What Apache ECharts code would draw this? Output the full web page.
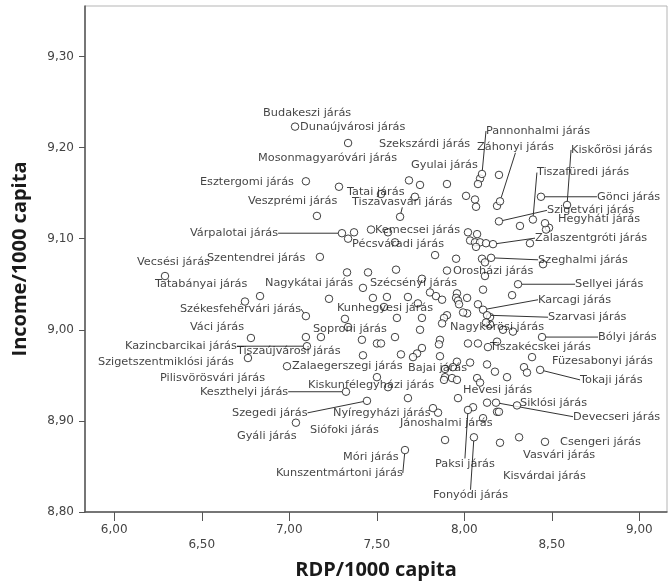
<!DOCTYPE html>
<html><head><meta charset="utf-8">
<script src="https://cdn.jsdelivr.net/npm/echarts@6/dist/echarts.min.js"></script>
<style>html,body{margin:0;padding:0;background:#fff}#chart{width:668px;height:585px}</style>
</head><body><div id="chart"></div>
<script>
// Tick values
const xTickValues = [6.0, 6.5, 7.0, 7.5, 8.0, 8.5, 9.0];
const yTickValues = [8.8, 8.9, 9.0, 9.1, 9.2, 9.3];

// Labelled districts (RDP/1000 capita, Income/1000 capita)
const labeledNames = [
  'Budakeszi járás','Dunaújvárosi járás','Szekszárdi járás','Záhonyi járás','Pannonhalmi járás',
  'Kiskőrösi járás','Mosonmagyaróvári járás','Gyulai járás','Tiszafüredi járás','Esztergomi járás',
  'Tatai járás','Gönci járás','Veszprémi járás','Tiszavasvári járás','Szigetvári járás',
  'Hegyháti járás','Várpalotai járás','Kemecsei járás','Zalaszentgróti járás','Pécsváradi járás',
  'Szentendrei járás','Vecsési járás','Szeghalmi járás','Orosházi járás','Tatabányai járás',
  'Nagykátai járás','Szécsényi járás','Sellyei járás','Karcagi járás','Székesfehérvári járás',
  'Kunhegyesi járás','Szarvasi járás','Váci járás','Soproni járás','Nagykőrösi járás',
  'Bólyi járás','Kazincbarcikai járás','Tiszaújvárosi járás','Tiszakécskei járás','Szigetszentmiklósi járás',
  'Füzesabonyi járás','Zalaegerszegi járás','Pilisvörösvári járás','Bajai járás','Tokaji járás',
  'Keszthelyi járás','Kiskunfélegyházi járás','Hevesi járás','Siklósi járás','Szegedi járás',
  'Nyíregyházi járás','Devecseri járás','Siófoki járás','Jánoshalmi járás','Gyáli járás',
  'Csengeri járás','Vasvári járás','Móri járás','Paksi járás','Kunszentmártoni járás',
  'Kisvárdai járás','Fonyódi járás'
];
const labeledRDP = [
  7.033,7.336,7.684,8.204,8.101,
  8.587,7.524,7.901,8.392,7.095,
  7.284,8.438,7.158,7.633,8.198,
  8.461,7.301,7.467,8.164,7.336,
  7.175,6.290,8.153,7.901,6.747,
  7.421,7.758,8.307,8.107,7.095,
  7.318,8.130,6.781,7.181,8.124,
  8.444,7.101,7.095,8.135,6.764,
  8.387,6.987,7.421,7.890,8.433,
  7.324,7.564,7.964,8.301,7.444,
  7.678,8.181,7.501,7.821,7.038,
  8.461,8.313,7.890,8.021,7.661,
  8.204,8.055
];
const labeledIncome = [
  9.223,9.205,9.164,9.141,9.171,
  9.137,9.149,9.160,9.121,9.163,
  9.157,9.146,9.125,9.124,9.119,
  9.117,9.106,9.110,9.094,9.100,
  9.080,9.059,9.079,9.065,9.031,
  9.046,9.056,9.050,9.022,9.015,
  9.012,9.016,8.991,8.992,9.008,
  8.992,8.982,8.992,8.981,8.969,
  8.970,8.960,8.972,8.957,8.956,
  8.932,8.937,8.925,8.917,8.922,
  8.925,8.920,8.948,8.914,8.898,
  8.877,8.882,8.879,8.912,8.868,
  8.876,8.882
];

// Unlabelled districts
const otherRDP = [
  7.747,7.718,8.090,8.078,8.198,8.010,8.061,8.067,8.187,8.318,
  8.484,8.467,7.370,7.564,7.604,8.021,8.073,8.033,8.061,8.090,
  8.124,8.067,8.375,8.450,7.833,7.953,8.101,8.118,7.330,7.450,
  7.610,8.118,8.107,8.273,6.833,7.227,7.478,7.541,7.804,7.838,
  7.873,7.958,7.953,7.964,8.016,7.970,7.678,7.558,7.735,8.078,
  8.147,8.016,7.993,7.901,7.884,7.873,7.758,7.615,7.336,8.147,
  8.221,8.278,7.604,7.501,7.524,7.747,7.861,7.855,8.021,8.078,
  8.187,7.758,7.730,7.707,7.638,7.861,7.958,8.033,8.130,8.341,
  8.358,8.175,8.244,7.935,7.415,7.890,7.930,7.884,7.958,8.073,
  8.090,7.850,8.050,8.130,8.187,8.198,8.107
];
const otherIncome = [
  9.159,9.146,9.166,9.160,9.170,9.147,9.143,9.135,9.136,9.114,
  9.112,9.110,9.107,9.107,9.096,9.107,9.105,9.098,9.096,9.096,
  9.095,9.091,9.095,9.072,9.082,9.078,9.078,9.074,9.063,9.063,
  9.066,9.059,9.044,9.038,9.037,9.034,9.035,9.025,9.041,9.037,
  9.033,9.040,9.035,9.032,9.035,9.028,9.036,9.036,9.029,9.028,
  9.014,9.018,9.019,9.016,9.013,9.007,9.013,9.013,9.003,9.006,
  9.000,8.998,8.992,8.985,8.985,9.000,8.989,8.984,8.985,8.985,
  8.987,8.980,8.974,8.970,8.973,8.971,8.965,8.964,8.962,8.959,
  8.953,8.954,8.948,8.959,8.989,8.948,8.947,8.945,8.945,8.947,
  8.942,8.909,8.915,8.920,8.910,8.910,8.903
];

// Label placement (pixel offset of label start from its point, leader line flag)
const labelPlacement = {
  'Budakeszi járás':[-32,-14,0],'Dunaújvárosi járás':[-48,-16,0],'Szekszárdi járás':[-30,-36,0],
  'Záhonyi járás':[-23,-54,1],'Pannonhalmi járás':[4,-43,1],'Kiskőrösi járás':[4,-55,1],
  'Mosonmagyaróvári járás':[-123,-36,0],'Gyulai járás':[-36,-19,0],'Tiszafüredi járás':[4,-47,1],
  'Esztergomi járás':[-106,1,0],'Tatai járás':[8,5,0],'Gönci járás':[56,0,1],
  'Veszprémi járás':[-69,-15,0],'Tiszavasvári járás':[-48,-15,1],'Szigetvári járás':[48,-11,1],
  'Hegyháti járás':[13,-4,0],'Várpalotai járás':[-152,0,1],'Kemecsei járás':[4,0,0],
  'Zalaszentgróti járás':[42,-6,1],'Pécsváradi járás':[4,5,0],'Szentendrei járás':[-113,1,0],
  'Vecsési járás':[-28,-14,0],'Szeghalmi járás':[47,2,1],'Orosházi járás':[6,0,0],
  'Tatabányai járás':[-90,-17,0],'Nagykátai járás':[-98,-5,0],'Szécsényi járás':[-52,4,0],
  'Sellyei járás':[57,0,1],'Karcagi járás':[55,-10,1],'Székesfehérvári járás':[-126,-7,1],
  'Kunhegyesi járás':[-8,-11,0],'Szarvasi járás':[61,2,1],'Váci járás':[-61,-11,0],
  'Soproni járás':[-8,-8,0],'Nagykőrösi járás':[-36,5,0],'Bólyi járás':[56,0,1],
  'Kazincbarcikai járás':[-182,0,1],'Tiszaújvárosi járás':[-69,14,0],'Tiszakécskei járás':[2,0,0],
  'Szigetszentmiklósi járás':[-150,4,0],'Füzesabonyi járás':[20,4,0],'Zalaegerszegi járás':[5,0,0],
  'Pilisvörösvári járás':[-203,23,0],'Bajai járás':[-37,-1,0],'Tokaji járás':[40,10,1],
  'Keszthelyi járás':[-146,0,1],'Kiskunfélegyházi járás':[-80,-2,0],'Hevesi járás':[5,-8,0],
  'Siklósi járás':[3,-2,0],'Szegedi járás':[-135,12,1],'Nyíregyházi járás':[-75,15,0],
  'Devecseri járás':[77,14,1],'Siófoki járás':[-67,53,0],'Jánoshalmi járás':[-33,15,0],
  'Gyáli járás':[-59,13,0],'Csengeri járás':[15,0,0],'Vasvári járás':[4,18,0],
  'Móri járás':[-102,17,0],'Paksi járás':[-33,54,1],'Kunszentmártoni járás':[-129,23,1],
  'Kisvárdai járás':[3,33,0],'Fonyódi járás':[-41,58,1]
};

const fmt = v => v.toFixed(2).replace('.', ',');
const pointStyle = { color: '#fff', borderColor: '#111', borderWidth: 1 };

const labeledData = labeledNames.map((n, i) => ({
  name: n,
  value: [labeledRDP[i], labeledIncome[i]],
  labelLine: { show: !!labelPlacement[n][2] }
}));
const otherData = otherRDP.map((x, i) => [x, otherIncome[i]]);

const chart = echarts.init(document.getElementById('chart'), null, { renderer: 'canvas' });
chart.setOption({
  animation: false,
  backgroundColor: '#fff',
  grid: { left: 85, right: 1, top: 6, bottom: 73, show: true, borderColor: '#b5b5b5', borderWidth: 1 },
  xAxis: {
    type: 'value', min: 5.833, max: 9.158,
    name: 'RDP/1000 capita', nameLocation: 'middle', nameGap: 48,
    nameTextStyle: { fontFamily: 'Open Sans', fontWeight: 'bold', fontSize: 20, color: '#1a1a1a' },
    axisLine: { show: true, onZero: false, lineStyle: { color: '#555', width: 1.5 } },
    axisTick: { show: true, length: 9, customValues: xTickValues, lineStyle: { color: '#555' } },
    axisLabel: {
      customValues: xTickValues, margin: 10, fontFamily: 'DejaVu Sans', fontSize: 12, color: '#444', lineHeight: 15,
      formatter: v => (Math.round(v * 2) % 2 ? '\n' : '') + fmt(v)
    },
    splitLine: { show: false }
  },
  yAxis: {
    type: 'value', min: 8.8, max: 9.3554,
    name: 'Income/1000 capita', nameLocation: 'middle', nameGap: 55, nameRotate: 90,
    nameTextStyle: { fontFamily: 'Open Sans', fontWeight: 'bold', fontSize: 20, color: '#1a1a1a' },
    axisLine: { show: true, onZero: false, lineStyle: { color: '#555', width: 1.5 } },
    axisTick: { show: true, length: 6, customValues: yTickValues, lineStyle: { color: '#555' } },
    axisLabel: { customValues: yTickValues, margin: 11, fontFamily: 'DejaVu Sans', fontSize: 12, color: '#444', formatter: v => fmt(v) },
    splitLine: { show: false }
  },
  series: [
    { type: 'scatter', data: otherData, symbol: 'circle', symbolSize: 7.5, itemStyle: pointStyle, silent: true, z: 2 },
    {
      type: 'scatter', data: labeledData, symbol: 'circle', symbolSize: 7.5, itemStyle: pointStyle, z: 3,
      label: {
        show: true, position: 'inside', align: 'left', verticalAlign: 'middle', formatter: '{b}',
        fontFamily: 'DejaVu Sans', fontSize: 11.3, color: '#111', textBorderWidth: 0
      },
      labelLine: { show: false, lineStyle: { color: '#333', width: 1 } },
      labelLayout: params => {
        const p = labelPlacement[labeledNames[params.dataIndex]];
        return { dx: p[0], dy: p[1], hideOverlap: false };
      }
    }
  ]
});
</script>
</body></html>
